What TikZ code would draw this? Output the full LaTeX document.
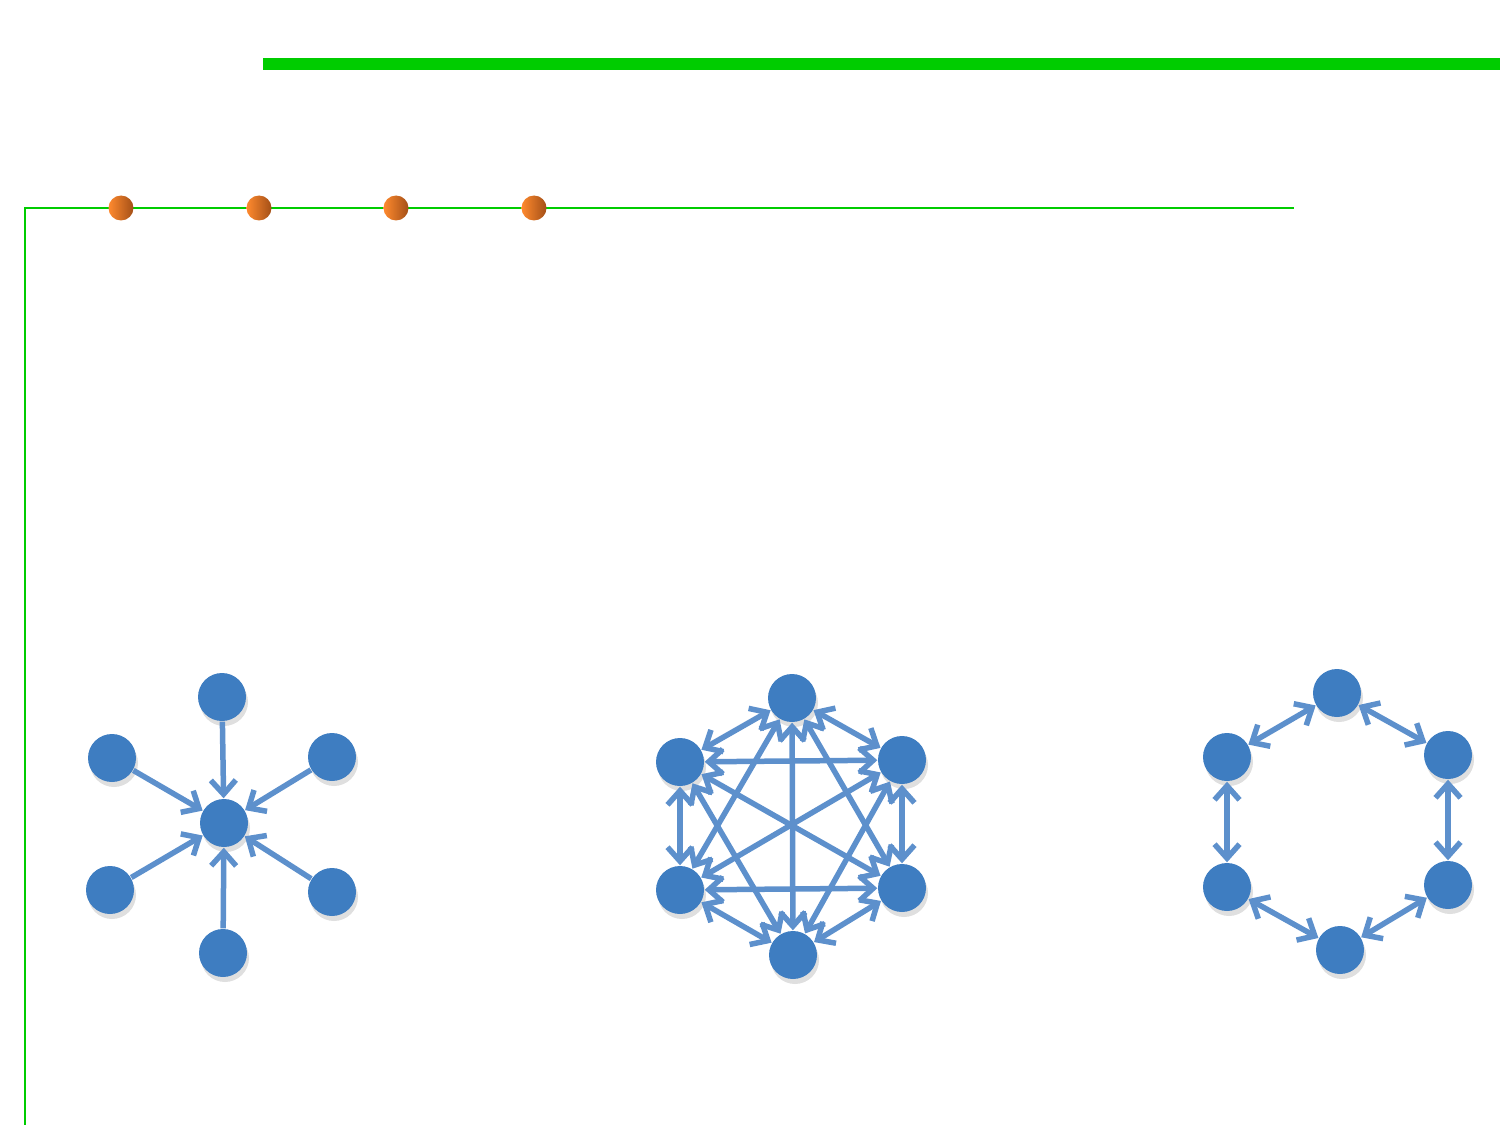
\documentclass[tikz,border=0pt]{standalone}
\usetikzlibrary{arrows.meta,shadows}

\definecolor{nodeblue}{HTML}{3E7DC1}
\definecolor{edgeblue}{HTML}{5D90CC}
\definecolor{linegreen}{HTML}{00CC00}
\definecolor{dotlight}{HTML}{FF8A2E}
\definecolor{dotdark}{HTML}{A34F17}

\begin{document}
\begin{tikzpicture}[x=0.1mm,y=-0.1mm,>={Straight Barb[length=1.4mm,width=2.5mm]},
  peer node/.style={circle,fill=nodeblue,minimum size=4.8mm,inner sep=0pt,
    drop shadow={opacity=0.25,shadow xshift=0.2mm,shadow yshift=-0.5mm}},
  bullet node/.style={circle,left color=dotlight,right color=dotdark,minimum size=2.5mm,inner sep=0pt},
  link/.style={draw=edgeblue,line width=0.55mm}]

  \useasboundingbox (0,0) rectangle (1500,1125);

  % frame lines
  \draw[linegreen,line width=1.2mm] (263,64) -- (1500,64);
  \draw[linegreen,line width=0.2mm] (25,1125) -- (25,208) -- (1294,208);

  \node[bullet node] (b1) at (121,208) {};
  \node[bullet node] (b2) at (259,208) {};
  \node[bullet node] (b3) at (396,208) {};
  \node[bullet node] (b4) at (534,208) {};

  % star
  \node[peer node] (hub) at (224,823) {};
  \node[peer node] (s1) at (222,697) {};
  \node[peer node] (s2) at (332,757) {};
  \node[peer node] (s3) at (332,892) {};
  \node[peer node] (s4) at (223,953) {};
  \node[peer node] (s5) at (110,890) {};
  \node[peer node] (s6) at (112,758) {};

  \path[every edge/.style={link,->}]
    (s1) edge (hub)
    (s2) edge (hub)
    (s3) edge (hub)
    (s4) edge (hub)
    (s5) edge (hub)
    (s6) edge (hub);

  % full mesh
  \node[peer node] (k1) at (792,698) {};
  \node[peer node] (k2) at (902,760) {};
  \node[peer node] (k3) at (902,888) {};
  \node[peer node] (k4) at (793,955) {};
  \node[peer node] (k5) at (680,890) {};
  \node[peer node] (k6) at (680,762) {};

  \path[every edge/.style={link,<->}]
    (k1) edge (k2) (k1) edge (k3) (k1) edge (k4) (k1) edge (k5) (k1) edge (k6)
    (k2) edge (k3) (k2) edge (k4) (k2) edge (k5) (k2) edge (k6)
    (k3) edge (k4) (k3) edge (k5) (k3) edge (k6)
    (k4) edge (k5) (k4) edge (k6)
    (k5) edge (k6);

  % ring
  \node[peer node] (r1) at (1337,693) {};
  \node[peer node] (r2) at (1448,755) {};
  \node[peer node] (r3) at (1448,885) {};
  \node[peer node] (r4) at (1340,950) {};
  \node[peer node] (r5) at (1227,887) {};
  \node[peer node] (r6) at (1227,757) {};

  \path[every edge/.style={link,<->}]
    (r1) edge (r2)
    (r2) edge (r3)
    (r3) edge (r4)
    (r4) edge (r5)
    (r5) edge (r6)
    (r6) edge (r1);
\end{tikzpicture}
\end{document}
